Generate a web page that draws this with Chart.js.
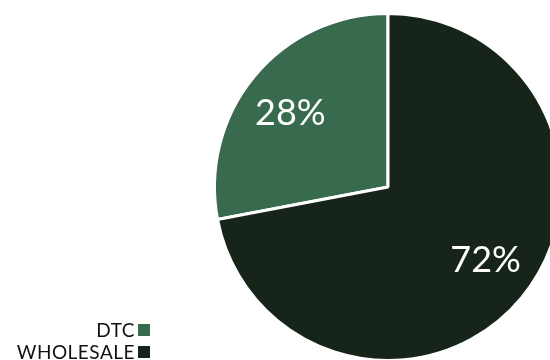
<!DOCTYPE html>
<html>
<head>
<meta charset="utf-8">
<script src="https://cdn.jsdelivr.net/npm/chart.js@4"></script>
<style>
  html, body { margin: 0; padding: 0; background: #ffffff; overflow: hidden; }
  body { width: 550px; height: 360px; position: relative; }
  #wrap { position: absolute; left: 0; top: 0; width: 600px; height: 400px; }
  #legend { position: absolute; right: 400px; top: 319px; font-family: Lato, sans-serif; font-size: 19px; letter-spacing: 0.5px; color: #111; line-height: 22px; }
  .item { display: flex; justify-content: flex-end; align-items: center; height: 22px; }
  .box { width: 12px; height: 12px; margin-left: 3px; }
</style>
</head>
<body>
<div id="wrap"><canvas id="pie" width="600" height="400"></canvas></div>
<div id="legend"></div>
<script>
const labels = ['DTC', 'WHOLESALE'];
const shares = [28, 72];
const colors = ['#386a4e', '#16241a'];

// 把 DTC 放在左上角，結束於 12 點鐘方向
const rotation = -shares[0] / 100 * 360;

const sliceLabels = {
  id: 'sliceLabels',
  afterDatasetsDraw(chart) {
    const ctx = chart.ctx;
    const meta = chart.getDatasetMeta(0);
    ctx.save();
    ctx.fillStyle = '#ffffff';
    ctx.font = '36px Lato, sans-serif';
    ctx.textAlign = 'center';
    ctx.textBaseline = 'middle';
    meta.data.forEach((arc, i) => {
      const p = arc.getProps(['x', 'y', 'startAngle', 'endAngle', 'outerRadius'], true);
      const mid = (p.startAngle + p.endAngle) / 2 - 0.045;
      const r = p.outerRadius * 0.705;
      ctx.fillText(shares[i] + '%', p.x + Math.cos(mid) * r, p.y + Math.sin(mid) * r);
    });
    ctx.restore();
  }
};

new Chart(document.getElementById('pie'), {
  type: 'pie',
  data: {
    labels,
    datasets: [{
      data: shares,
      backgroundColor: colors,
      borderColor: '#ffffff',
      borderWidth: 3,
      hoverOffset: 0
    }]
  },
  options: {
    responsive: false,
    animation: false,
    rotation,
    layout: { padding: { left: 213, top: 12, right: 37, bottom: 38 } },
    plugins: { legend: { display: false }, tooltip: { enabled: false } }
  },
  plugins: [sliceLabels]
});

const legend = document.getElementById('legend');
labels.forEach((label, i) => {
  const row = document.createElement('div');
  row.className = 'item';
  row.innerHTML = `<span>${label}</span><span class="box" style="background:${colors[i]}"></span>`;
  legend.appendChild(row);
});
</script>
</body>
</html>
